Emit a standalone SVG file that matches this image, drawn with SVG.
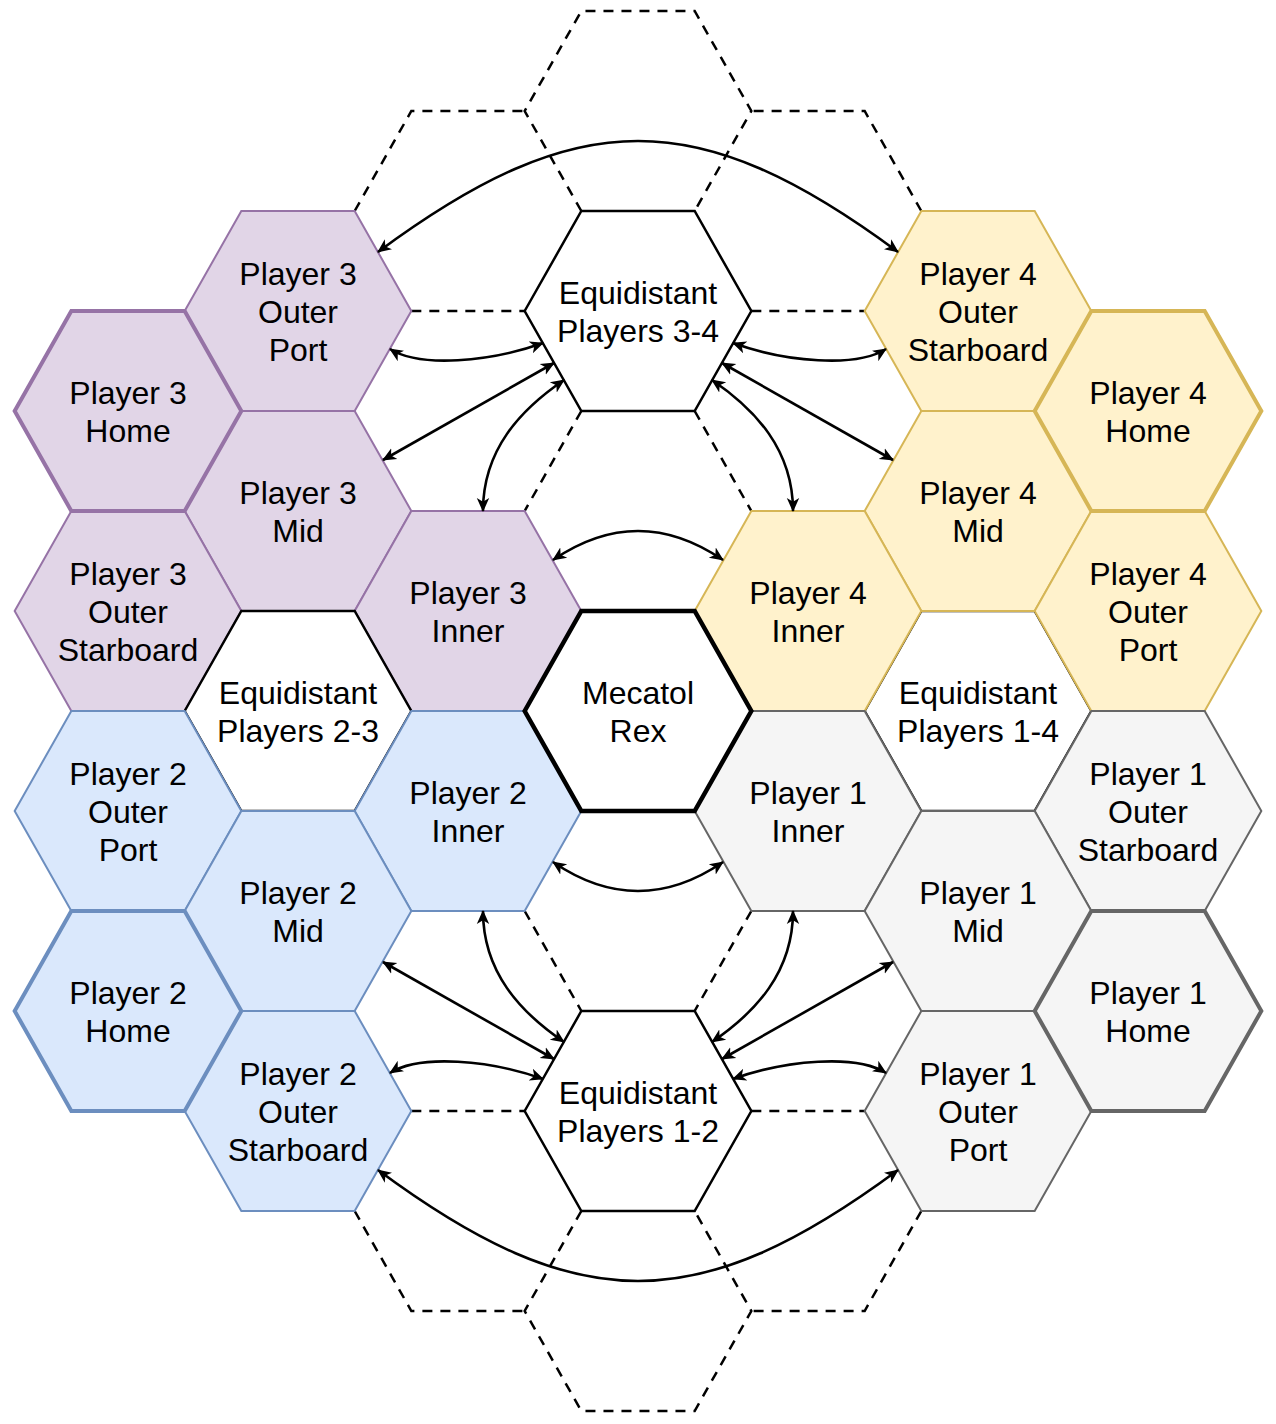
<svg xmlns="http://www.w3.org/2000/svg" width="1276" height="1424" viewBox="0 0 1276 1424">
<defs>
<style>
.dash{fill:none;stroke:#000;stroke-width:2.5;stroke-dasharray:10 8;stroke-linejoin:miter}
.hex{stroke-width:2;stroke-linejoin:miter}
.p3{fill:#e1d5e7;stroke:#9673a6}
.p4{fill:#fff2cc;stroke:#d6b656}
.p2{fill:#dae8fc;stroke:#6c8ebf}
.p1{fill:#f5f5f5;stroke:#666666}
.eq{fill:#ffffff;stroke:#000000;stroke-width:2.5}
.home{stroke-width:4}
.mec{fill:#ffffff;stroke:#000000;stroke-width:4.5}
.lbl{font-family:"Liberation Sans",Arial,Helvetica,sans-serif;font-size:32px;fill:#000;text-anchor:middle}
.edge{fill:none;stroke:#000;stroke-width:2.6;marker-start:url(#arr);marker-end:url(#arr)}
</style>
<marker id="arr" markerUnits="userSpaceOnUse" markerWidth="15" markerHeight="14" viewBox="0 0 15 14" refX="13" refY="7" orient="auto-start-reverse">
<path d="M0,0.8 L14,7 L0,13.2 L3.8,7 Z" fill="#000"/>
</marker>
</defs>

<g id="grid-dashed">
<polyline class="dash" points="581.33,211 524.67,111 581.33,11 694.67,11 751.33,111 694.67,211"/>
<polyline class="dash" points="354.67,211 411.33,111 524.67,111"/>
<line class="dash" x1="411.33" y1="311" x2="524.67" y2="311"/>
<polyline class="dash" points="921.33,211 864.67,111 751.33,111"/>
<line class="dash" x1="751.33" y1="311" x2="864.67" y2="311"/>
<line class="dash" x1="581.33" y1="411" x2="524.67" y2="511"/>
<line class="dash" x1="694.67" y1="411" x2="751.33" y2="511"/>
<line class="dash" x1="524.67" y1="911" x2="581.33" y2="1011"/>
<line class="dash" x1="751.33" y1="911" x2="694.67" y2="1011"/>
<line class="dash" x1="411.33" y1="1111" x2="524.67" y2="1111"/>
<polyline class="dash" points="354.67,1211 411.33,1311 524.67,1311"/>
<line class="dash" x1="751.33" y1="1111" x2="864.67" y2="1111"/>
<polyline class="dash" points="921.33,1211 864.67,1311 751.33,1311"/>
<polyline class="dash" points="581.33,1211 524.67,1311 581.33,1411 694.67,1411 751.33,1311 694.67,1211"/>
</g>

<g id="p3-outer-port"><polygon class="hex p3" points="184.67,311 241.33,211 354.67,211 411.33,311 354.67,411 241.33,411"/>
<text class="lbl" x="298" y="285">Player 3</text><text class="lbl" x="298" y="323">Outer</text><text class="lbl" x="298" y="361">Port</text></g>
<g id="p3-mid"><polygon class="hex p3" points="184.67,511 241.33,411 354.67,411 411.33,511 354.67,611 241.33,611"/>
<text class="lbl" x="298" y="504">Player 3</text><text class="lbl" x="298" y="542">Mid</text></g>
<g id="p3-outer-starboard"><polygon class="hex p3" points="14.67,611 71.33,511 184.67,511 241.33,611 184.67,711 71.33,711"/>
<text class="lbl" x="128" y="585">Player 3</text><text class="lbl" x="128" y="623">Outer</text><text class="lbl" x="128" y="661">Starboard</text></g>
<g id="p3-inner"><polygon class="hex p3" points="354.67,611 411.33,511 524.67,511 581.33,611 524.67,711 411.33,711"/>
<text class="lbl" x="468" y="604">Player 3</text><text class="lbl" x="468" y="642">Inner</text></g>

<g id="eq-3-4"><polygon class="hex eq" points="524.67,311 581.33,211 694.67,211 751.33,311 694.67,411 581.33,411"/>
<text class="lbl" x="638" y="304">Equidistant</text><text class="lbl" x="638" y="342">Players 3-4</text></g>
<g id="eq-2-3"><polygon class="hex eq" points="184.67,711 241.33,611 354.67,611 411.33,711 354.67,811 241.33,811"/>
<text class="lbl" x="298" y="704">Equidistant</text><text class="lbl" x="298" y="742">Players 2-3</text></g>
<g id="eq-1-4"><polygon class="hex eq" points="864.67,711 921.33,611 1034.67,611 1091.33,711 1034.67,811 921.33,811"/>
<text class="lbl" x="978" y="704">Equidistant</text><text class="lbl" x="978" y="742">Players 1-4</text></g>
<g id="eq-1-2"><polygon class="hex eq" points="524.67,1111 581.33,1011 694.67,1011 751.33,1111 694.67,1211 581.33,1211"/>
<text class="lbl" x="638" y="1104">Equidistant</text><text class="lbl" x="638" y="1142">Players 1-2</text></g>

<g id="p2-outer-port"><polygon class="hex p2" points="14.67,811 71.33,711 184.67,711 241.33,811 184.67,911 71.33,911"/>
<text class="lbl" x="128" y="785">Player 2</text><text class="lbl" x="128" y="823">Outer</text><text class="lbl" x="128" y="861">Port</text></g>
<g id="p2-inner"><polygon class="hex p2" points="354.67,811 411.33,711 524.67,711 581.33,811 524.67,911 411.33,911"/>
<text class="lbl" x="468" y="804">Player 2</text><text class="lbl" x="468" y="842">Inner</text></g>
<g id="p2-mid"><polygon class="hex p2" points="184.67,911 241.33,811 354.67,811 411.33,911 354.67,1011 241.33,1011"/>
<text class="lbl" x="298" y="904">Player 2</text><text class="lbl" x="298" y="942">Mid</text></g>
<g id="p2-outer-starboard"><polygon class="hex p2" points="184.67,1111 241.33,1011 354.67,1011 411.33,1111 354.67,1211 241.33,1211"/>
<text class="lbl" x="298" y="1085">Player 2</text><text class="lbl" x="298" y="1123">Outer</text><text class="lbl" x="298" y="1161">Starboard</text></g>

<g id="p4-outer-starboard"><polygon class="hex p4" points="864.67,311 921.33,211 1034.67,211 1091.33,311 1034.67,411 921.33,411"/>
<text class="lbl" x="978" y="285">Player 4</text><text class="lbl" x="978" y="323">Outer</text><text class="lbl" x="978" y="361">Starboard</text></g>
<g id="p4-mid"><polygon class="hex p4" points="864.67,511 921.33,411 1034.67,411 1091.33,511 1034.67,611 921.33,611"/>
<text class="lbl" x="978" y="504">Player 4</text><text class="lbl" x="978" y="542">Mid</text></g>
<g id="p4-inner"><polygon class="hex p4" points="694.67,611 751.33,511 864.67,511 921.33,611 864.67,711 751.33,711"/>
<text class="lbl" x="808" y="604">Player 4</text><text class="lbl" x="808" y="642">Inner</text></g>
<g id="p4-outer-port"><polygon class="hex p4" points="1034.67,611 1091.33,511 1204.67,511 1261.33,611 1204.67,711 1091.33,711"/>
<text class="lbl" x="1148" y="585">Player 4</text><text class="lbl" x="1148" y="623">Outer</text><text class="lbl" x="1148" y="661">Port</text></g>

<g id="p1-inner"><polygon class="hex p1" points="694.67,811 751.33,711 864.67,711 921.33,811 864.67,911 751.33,911"/>
<text class="lbl" x="808" y="804">Player 1</text><text class="lbl" x="808" y="842">Inner</text></g>
<g id="p1-outer-starboard"><polygon class="hex p1" points="1034.67,811 1091.33,711 1204.67,711 1261.33,811 1204.67,911 1091.33,911"/>
<text class="lbl" x="1148" y="785">Player 1</text><text class="lbl" x="1148" y="823">Outer</text><text class="lbl" x="1148" y="861">Starboard</text></g>
<g id="p1-mid"><polygon class="hex p1" points="864.67,911 921.33,811 1034.67,811 1091.33,911 1034.67,1011 921.33,1011"/>
<text class="lbl" x="978" y="904">Player 1</text><text class="lbl" x="978" y="942">Mid</text></g>
<g id="p1-outer-port"><polygon class="hex p1" points="864.67,1111 921.33,1011 1034.67,1011 1091.33,1111 1034.67,1211 921.33,1211"/>
<text class="lbl" x="978" y="1085">Player 1</text><text class="lbl" x="978" y="1123">Outer</text><text class="lbl" x="978" y="1161">Port</text></g>

<g id="p3-home"><polygon class="hex p3 home" points="14.67,411 71.33,311 184.67,311 241.33,411 184.67,511 71.33,511"/>
<text class="lbl" x="128" y="404">Player 3</text><text class="lbl" x="128" y="442">Home</text></g>
<g id="p2-home"><polygon class="hex p2 home" points="14.67,1011 71.33,911 184.67,911 241.33,1011 184.67,1111 71.33,1111"/>
<text class="lbl" x="128" y="1004">Player 2</text><text class="lbl" x="128" y="1042">Home</text></g>
<g id="p4-home"><polygon class="hex p4 home" points="1034.67,411 1091.33,311 1204.67,311 1261.33,411 1204.67,511 1091.33,511"/>
<text class="lbl" x="1148" y="404">Player 4</text><text class="lbl" x="1148" y="442">Home</text></g>
<g id="p1-home"><polygon class="hex p1 home" points="1034.67,1011 1091.33,911 1204.67,911 1261.33,1011 1204.67,1111 1091.33,1111"/>
<text class="lbl" x="1148" y="1004">Player 1</text><text class="lbl" x="1148" y="1042">Home</text></g>

<g id="mecatol-rex"><polygon class="mec" points="524.67,711 581.33,611 694.67,611 751.33,711 694.67,811 581.33,811"/>
<text class="lbl" x="638" y="704">Mecatol</text><text class="lbl" x="638" y="742">Rex</text></g>

<g id="connectors">
<path class="edge" d="M378,252 C578,104 698,104 898,252"/>
<path class="edge" d="M378,1170 C578,1318 698,1318 898,1170"/>
<path class="edge" d="M390,349 C420,368 490,362 543,343"/>
<path class="edge" d="M886,349 C856,368 786,362 733,343"/>
<path class="edge" d="M390,1073 C420,1054 490,1060 543,1079"/>
<path class="edge" d="M886,1073 C856,1054 786,1060 733,1079"/>
<path class="edge" d="M383,460 L554,363"/>
<path class="edge" d="M893,460 L722,363"/>
<path class="edge" d="M383,962 L554,1059"/>
<path class="edge" d="M893,962 L722,1059"/>
<path class="edge" d="M483,511 C483,450 520,410 564,380"/>
<path class="edge" d="M793,511 C793,450 756,410 712,380"/>
<path class="edge" d="M483,911 C483,972 520,1012 564,1042"/>
<path class="edge" d="M793,911 C793,972 756,1012 712,1042"/>
<path class="edge" d="M553,560 Q638,502 723,560"/>
<path class="edge" d="M553,862 Q638,920 723,862"/>
</g>
</svg>
